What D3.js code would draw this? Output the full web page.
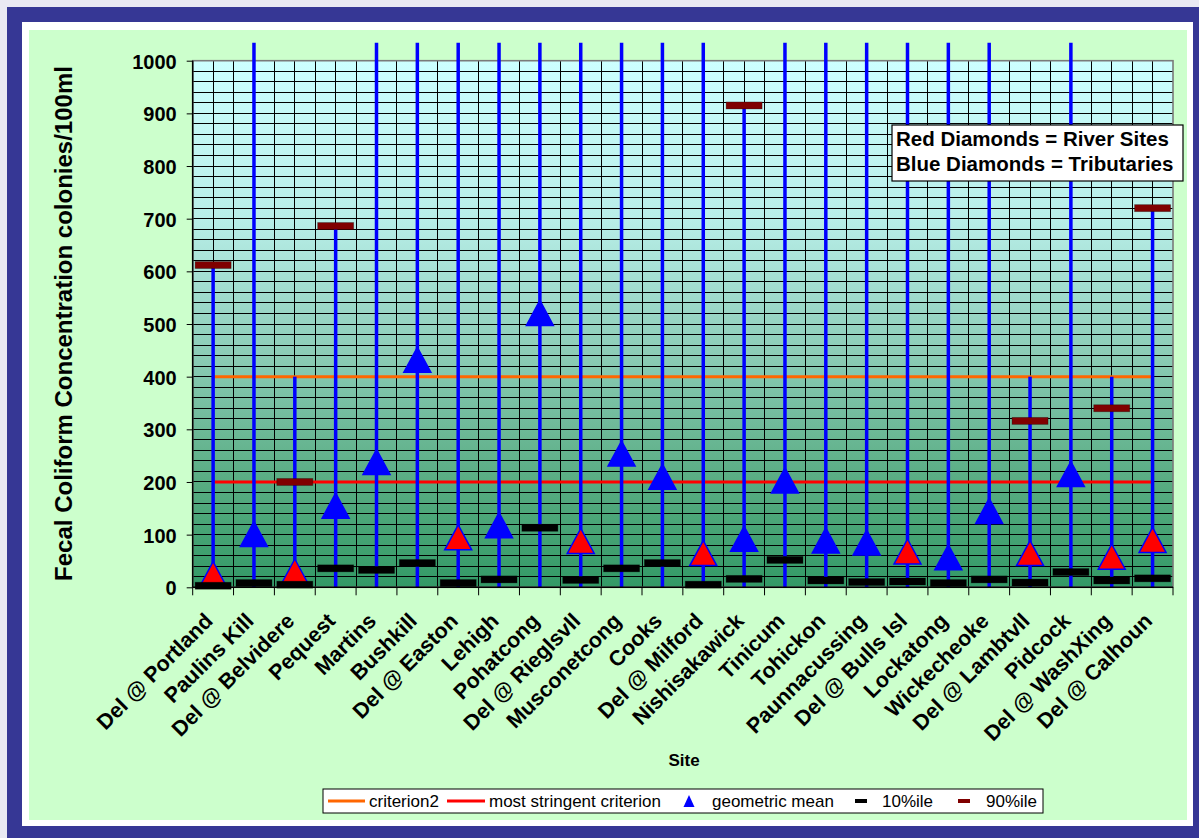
<!DOCTYPE html>
<html>
<head>
<meta charset="utf-8">
<script src="https://cdn.jsdelivr.net/npm/d3@7/dist/d3.min.js"></script>
<style>
  html, body { margin: 0; padding: 0; background: #ffffff; }
  svg { display: block; font-family: Arial, "Liberation Sans", sans-serif; }
</style>
</head>
<body>
<svg id="chart" width="1199" height="838"></svg>
<script>
// Sampling sites, upstream to downstream
const sites = [
  "Del @ Portland", "Paulins Kill", "Del @ Belvidere", "Pequest", "Martins",
  "Bushkill", "Del @ Easton", "Lehigh", "Pohatcong", "Del @ Rieglsvll",
  "Musconetcong", "Cooks", "Del @ Milford", "Nishisakawick", "Tinicum",
  "Tohickon", "Paunnacussing", "Del @ Bulls Isl", "Lockatong", "Wickecheoke",
  "Del @ Lambtvll", "Pidcock", "Del @ WashXing", "Del @ Calhoun"
];
// "river" = main-stem Delaware site, "trib" = tributary
const siteType = [
  "river", "trib", "river", "trib", "trib",
  "trib", "river", "trib", "trib", "river",
  "trib", "trib", "river", "trib", "trib",
  "trib", "trib", "river", "trib", "trib",
  "river", "trib", "river", "river"
];
// geometric mean, colonies/100ml
const geoMean = [
  25, 101, 30, 155, 238,
  432, 95, 118, 521, 88,
  254, 210, 65, 92, 203,
  89, 85, 68, 57, 145,
  65, 215, 58, 90
];
// 10th percentile
const pct10 = [
  3, 8, 5, 36, 33,
  46, 8, 15, 113, 14,
  36, 46, 5, 16, 52,
  13, 10, 11, 8, 15,
  9, 29, 13, 17
];
// 90th percentile (null = above the 1000 axis limit)
const pct90 = [
  612, null, 200, 686, null,
  null, null, null, null, null,
  null, null, null, 915, null,
  null, null, null, null, null,
  316, null, 340, 720
];
// maximum observed value (values past 1000 run off the top of the plot)
const maxVal = [
  612, 1200, 400, 686, 1200,
  1200, 1200, 1200, 1200, 1200,
  1200, 1200, 1200, 915, 1200,
  1200, 1200, 1200, 1200, 1200,
  400, 1200, 400, 720
];
const criterion2 = 400;
const stringentCriterion = 200;
const yTickValues = [0, 100, 200, 300, 400, 500, 600, 700, 800, 900, 1000];
const yGridStep = 20;

const svg = d3.select("#chart");
const W = 1199, H = 838;

// ---- frame ----
svg.append("rect").attr("x", 0).attr("y", 0).attr("width", W).attr("height", H).attr("fill", "#E9E9F3");
svg.append("rect").attr("x", 7).attr("y", 7).attr("width", W - 7).attr("height", H - 7).attr("fill", "#363795");
svg.append("rect").attr("x", 22).attr("y", 22).attr("width", 1171).attr("height", 804).attr("fill", "#ffffff");
svg.append("rect").attr("x", 29).attr("y", 30).attr("width", 1158).attr("height", 790).attr("fill", "#CCFFCC");

// ---- scales ----
const plotLeft = 192.7, plotRight = 1173, plotTop = 60.7, plotBottom = 587.3;
const x = d3.scaleBand().domain(sites).range([plotLeft, plotRight]).padding(0);
const bw = x.bandwidth();
const cx = d => x(d) + bw / 2;
const y = d3.scaleLinear().domain([0, 1000]).range([plotBottom, plotTop]);

const defs = svg.append("defs");
const grad = defs.append("linearGradient").attr("id", "plotFill")
  .attr("x1", 0).attr("y1", 0).attr("x2", 0).attr("y2", 1);
[[0, "#CCFFFF"], [0.3, "#B8EEE8"], [0.55, "#8DCDB8"], [0.8, "#58AC82"], [1, "#339966"]]
  .forEach(([o, c]) => grad.append("stop").attr("offset", o).attr("stop-color", c));

defs.append("clipPath").attr("id", "stemClip")
  .append("rect")
  .attr("x", plotLeft).attr("y", plotTop - 18)
  .attr("width", plotRight - plotLeft).attr("height", plotBottom - plotTop + 18);

// ---- plot background ----
svg.append("rect")
  .attr("x", plotLeft).attr("y", plotTop)
  .attr("width", plotRight - plotLeft).attr("height", plotBottom - plotTop)
  .attr("fill", "url(#plotFill)");

// ---- grid ----
const grid = svg.append("g").attr("stroke", "#000").attr("stroke-width", 1).attr("shape-rendering", "crispEdges");
grid.selectAll("line.h").data(d3.range(0, 1001, yGridStep)).join("line")
  .attr("x1", plotLeft).attr("x2", plotRight)
  .attr("y1", d => y(d)).attr("y2", d => y(d));
const vGrid = [];
sites.forEach(s => { vGrid.push(x(s)); vGrid.push(cx(s)); });
grid.selectAll("line.v").data(vGrid).join("line")
  .attr("x1", d => d).attr("x2", d => d)
  .attr("y1", plotTop).attr("y2", plotBottom);

// plot border
svg.append("rect")
  .attr("x", plotLeft).attr("y", plotTop)
  .attr("width", plotRight - plotLeft).attr("height", plotBottom - plotTop)
  .attr("fill", "none").attr("stroke", "#7a7a7a").attr("stroke-width", 1.6);

// ---- criterion lines ----
const first = sites[0], last = sites[sites.length - 1];
svg.append("line")
  .attr("x1", cx(first)).attr("x2", cx(last))
  .attr("y1", y(criterion2)).attr("y2", y(criterion2))
  .attr("stroke", "#FF6600").attr("stroke-width", 3);
svg.append("line")
  .attr("x1", cx(first)).attr("x2", cx(last))
  .attr("y1", y(stringentCriterion)).attr("y2", y(stringentCriterion))
  .attr("stroke", "#FF0000").attr("stroke-width", 3);

// ---- range stems ----
svg.append("g").attr("clip-path", "url(#stemClip)")
  .selectAll("line").data(sites).join("line")
  .attr("x1", d => cx(d)).attr("x2", d => cx(d))
  .attr("y1", y(0)).attr("y2", (d, i) => y(maxVal[i]))
  .attr("stroke", "#0000FF").attr("stroke-width", 3.5);

// ---- axes ----
const axisG = svg.append("g");
axisG.append("line").attr("x1", plotLeft).attr("x2", plotLeft).attr("y1", plotTop).attr("y2", plotBottom)
  .attr("stroke", "#000").attr("stroke-width", 1.5);
axisG.append("line").attr("x1", plotLeft).attr("x2", plotRight).attr("y1", plotBottom).attr("y2", plotBottom)
  .attr("stroke", "#000").attr("stroke-width", 1.5);

const yAxis = d3.axisLeft(y).tickValues(yTickValues).tickSize(6).tickPadding(10).tickFormat(d3.format("d"));
const yG = svg.append("g").attr("transform", `translate(${plotLeft},0)`).call(yAxis);
yG.select(".domain").remove();
yG.selectAll(".tick line").attr("stroke", "#000");
yG.selectAll(".tick text")
  .attr("fill", "#000").attr("font-size", "20px").attr("font-weight", "bold")
  .attr("font-family", "Arial, 'Liberation Sans', sans-serif")
  .attr("dy", "0.37em");

// category boundary ticks
const boundaries = sites.map(s => x(s)).concat([plotRight]);
svg.append("g").selectAll("line").data(boundaries).join("line")
  .attr("x1", d => d).attr("x2", d => d)
  .attr("y1", plotBottom).attr("y2", plotBottom + 8)
  .attr("stroke", "#000").attr("stroke-width", 1);

// category labels
svg.append("g").selectAll("text").data(sites).join("text")
  .attr("transform", d => `translate(${cx(d) + 1},${plotBottom + 35}) rotate(-45)`)
  .attr("text-anchor", "end")
  .attr("font-size", "21.5px").attr("font-weight", "bold").attr("fill", "#000")
  .text(d => d);

// axis titles
svg.append("text")
  .attr("transform", `translate(71.5,${(62 + 585) / 2}) rotate(-90)`)
  .attr("text-anchor", "middle")
  .attr("font-size", "24px").attr("font-weight", "bold").attr("fill", "#000")
  .text("Fecal Coliform Concentration colonies/100ml");
svg.append("text")
  .attr("x", 684).attr("y", 766)
  .attr("text-anchor", "middle")
  .attr("font-size", "17px").attr("font-weight", "bold").attr("fill", "#000")
  .text("Site");

// ---- markers ----
const triPath = (w, h) => `M0,${-h / 2}L${w / 2},${h / 2}L${-w / 2},${h / 2}Z`;
svg.append("g").selectAll("path").data(sites).join("path")
  .attr("transform", (d, i) => `translate(${cx(d)},${y(geoMean[i])})`)
  .attr("d", triPath(27, 25))
  .attr("fill", (d, i) => siteType[i] === "river" ? "#FF0000" : "#0000FF")
  .attr("stroke", "#0000FF").attr("stroke-width", 1.5).attr("stroke-linejoin", "miter");

const dash = (g, values, color) => {
  g.selectAll("rect").data(sites.map((s, i) => ({ s, v: values[i] })).filter(d => d.v !== null))
    .join("rect")
    .attr("x", d => cx(d.s) - 18).attr("y", d => y(d.v) - 3.5)
    .attr("width", 36).attr("height", 7)
    .attr("fill", color)
    .attr("stroke", "rgba(0,0,0,0.35)").attr("stroke-width", 0.8);
};
dash(svg.append("g"), pct10, "#000000");
dash(svg.append("g"), pct90, "#800000");

// ---- note box ----
const note = svg.append("g");
note.append("rect").attr("x", 892).attr("y", 125).attr("width", 291).attr("height", 56)
  .attr("fill", "#fff").attr("stroke", "#000").attr("stroke-width", 1.2);
note.append("text").attr("x", 896).attr("y", 146)
  .attr("font-size", "20.5px").attr("font-weight", "bold").attr("fill", "#000")
  .text("Red Diamonds = River Sites");
note.append("text").attr("x", 896).attr("y", 171)
  .attr("font-size", "20.5px").attr("font-weight", "bold").attr("fill", "#000")
  .text("Blue Diamonds = Tributaries");

// ---- legend ----
const leg = svg.append("g");
leg.append("rect").attr("x", 323).attr("y", 789).attr("width", 720).attr("height", 24)
  .attr("fill", "#fff").attr("stroke", "#000").attr("stroke-width", 1);
const ly = 801;
const legendItems = [
  { kind: "line", color: "#FF6600", x0: 328, x1: 365, tx: 369, label: "criterion2" },
  { kind: "line", color: "#FF0000", x0: 447, x1: 485, tx: 489, label: "most stringent criterion" },
  { kind: "tri", color: "#0000FF", mx: 689, tx: 712, label: "geometric mean" },
  { kind: "dash", color: "#000000", mx: 861, tx: 882, label: "10%ile" },
  { kind: "dash", color: "#800000", mx: 964, tx: 986, label: "90%ile" }
];
legendItems.forEach(it => {
  if (it.kind === "line") {
    leg.append("line").attr("x1", it.x0).attr("x2", it.x1).attr("y1", ly).attr("y2", ly)
      .attr("stroke", it.color).attr("stroke-width", 3);
  } else if (it.kind === "tri") {
    leg.append("path").attr("transform", `translate(${it.mx},${ly})`).attr("d", triPath(11, 12))
      .attr("fill", it.color);
  } else {
    leg.append("rect").attr("x", it.mx - 6).attr("y", ly - 2).attr("width", 12).attr("height", 4)
      .attr("fill", it.color);
  }
  leg.append("text").attr("x", it.tx).attr("y", ly + 6)
    .attr("font-size", "17px").attr("fill", "#000").text(it.label);
});
</script>
</body>
</html>
